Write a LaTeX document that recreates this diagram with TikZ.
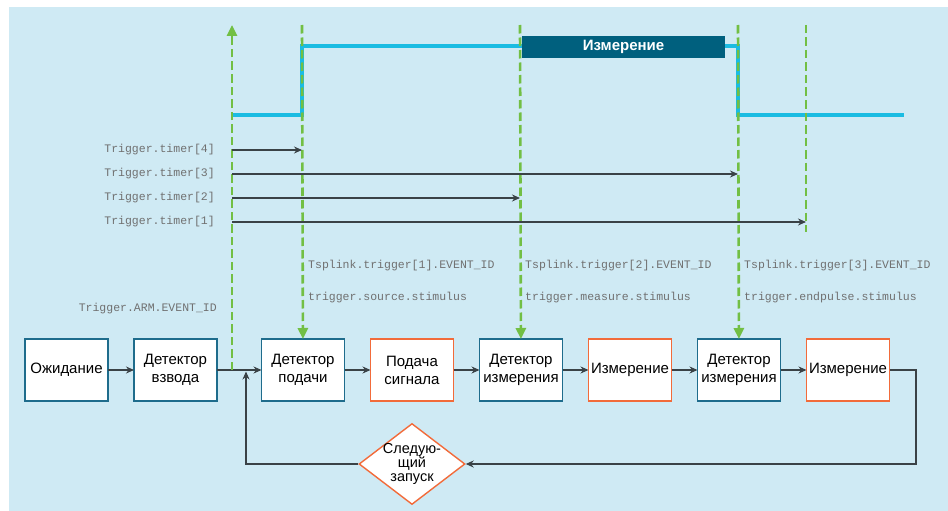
\documentclass[tikz,border=0pt]{standalone}
\usepackage{fontspec}
\setmainfont{Liberation Sans}
\setmonofont{Liberation Mono}
\usetikzlibrary{arrows.meta,positioning,shapes.geometric,calc}

\definecolor{bgblue}{HTML}{CFEAF4}
\definecolor{boxblue}{HTML}{1E6C8C}
\definecolor{boxorange}{HTML}{F26B3A}
\definecolor{trigreen}{HTML}{72BF44}
\definecolor{sigcyan}{HTML}{1BBCE2}
\definecolor{hdrteal}{HTML}{00607E}
\definecolor{codegrey}{HTML}{707070}
\definecolor{flowgrey}{HTML}{3A4246}

\tikzset{
  blockbox/.style={draw=boxblue, fill=white, line width=1.8pt, outer sep=0pt,
    minimum width=83pt, minimum height=62pt, inner sep=1pt, align=center,
    font=\fontsize{15}{18}\selectfont},
  actbox/.style={blockbox, draw=boxorange},
  decision/.style={diamond, draw=boxorange, fill=white, line width=1.4pt,
    minimum width=106pt, minimum height=81pt, inner sep=-6pt, aspect=1.3,
    align=center, font=\fontsize{14.5}{14}\selectfont},
  hdrbox/.style={fill=hdrteal, text=white, minimum width=203pt, minimum height=22pt,
    inner sep=0pt, font=\fontsize{15}{18}\selectfont\bfseries},
  codetext/.style={text=codegrey, font=\fontsize{11.5}{13}\ttfamily, inner sep=0pt},
  trigline/.style={draw=trigreen, line width=2.6pt, dash pattern=on 8.5pt off 4pt},
  trigarrow/.style={trigline, -{Triangle[length=11pt,width=10pt]}},
  signal/.style={draw=sigcyan, line width=3.1pt},
  flow/.style={color=flowgrey, line width=1.6pt, ->},
  timer/.style={color=flowgrey, line width=1.2pt, ->},
}

\begin{document}
\begin{tikzpicture}[x=1pt, y=-1pt, >={Stealth[length=8pt,width=7pt]}, node distance=26pt]
    \useasboundingbox (0,0) rectangle (948,511);
    \fill[bgblue] (9,7) rectangle (948,511);

    % flow chart
    \node[blockbox]  (wait)                          at (66.5,370) {Ожидание};
    \node[blockbox]  (arm)     [right=of wait]                     {Детектор\\взвода};
    \node[blockbox]  (source)  [right=44.5pt of arm]               {Детектор\\подачи};
    \node[actbox]    (pulse)   [right=of source]                   {Подача\\сигнала};
    \node[blockbox]  (detmeas) [right=of pulse]                    {Детектор\\измерения};
    \node[actbox]    (meas)    [right=of detmeas]                  {Измерение};
    \node[blockbox]  (detend)  [right=of meas]                     {Детектор\\измерения};
    \node[actbox]    (measend) [right=of detend]                   {Измерение};
    \node[decision]  (next)                          at (412,464)  {Следую-\\щий\\запуск};

    \path[flow] (wait)    edge (arm)
                (arm)     edge (source)
                (source)  edge (pulse)
                (pulse)   edge (detmeas)
                (detmeas) edge (meas)
                (meas)    edge (detend)
                (detend)  edge (measend);

    \coordinate (turn) at (916,370);
    \coordinate (join) at (246,371.5);
    \draw[flow] (measend) -- (turn) |- (next);
    \draw[flow] (next) -| (join);

    % signal level
    \draw[signal] (232,115) -- (302,115) -- (302,46) -- (738,46) -- (738,115) -- (904,115);

    % trigger lines
    \coordinate (armtap)  at (232,370);
    \coordinate (armtop)  at (232,25);
    \coordinate (srctop)  at (302,25);
    \coordinate (meastop) at (520,25);
    \coordinate (endtop)  at (738,25);
    \coordinate (lasttop) at (806,25);
    \coordinate (lastbot) at (806,232);
    \draw[trigarrow] (armtap)  -- (armtop);
    \draw[trigarrow] (srctop)  -- (source);
    \draw[trigarrow] (meastop) -- (detmeas);
    \draw[trigarrow] (endtop)  -- (detend);
    \draw[trigline]  (lasttop) -- (lastbot);

    \node[hdrbox] (hdr) at (623.5,47) {Измерение};

    % timers
    \foreach \n/\y/\x in {4/150/302, 3/174/738, 2/198/520, 1/222/806} {
        \node[codetext, anchor=east] (timer\n) at (215,\y) {Trigger.timer[\n]};
        \coordinate (tstart\n) at (232,\y);
        \coordinate (tend\n)   at (\x,\y);
        \draw[timer] (tstart\n) -- (tend\n);
    }

    % event labels
    \node[codetext, anchor=east] (armid)    at (217,309) {Trigger.ARM.EVENT\_ID};
    \node[codetext, anchor=west] (tsp1)     at (308,266) {Tsplink.trigger[1].EVENT\_ID};
    \node[codetext, anchor=west] (srcstim)  at (308,298) {trigger.source.stimulus};
    \node[codetext, anchor=west] (tsp2)     at (525,266) {Tsplink.trigger[2].EVENT\_ID};
    \node[codetext, anchor=west] (measstim) at (525,298) {trigger.measure.stimulus};
    \node[codetext, anchor=west] (tsp3)     at (744,266) {Tsplink.trigger[3].EVENT\_ID};
    \node[codetext, anchor=west] (endstim)  at (744,298) {trigger.endpulse.stimulus};
\end{tikzpicture}
\end{document}
